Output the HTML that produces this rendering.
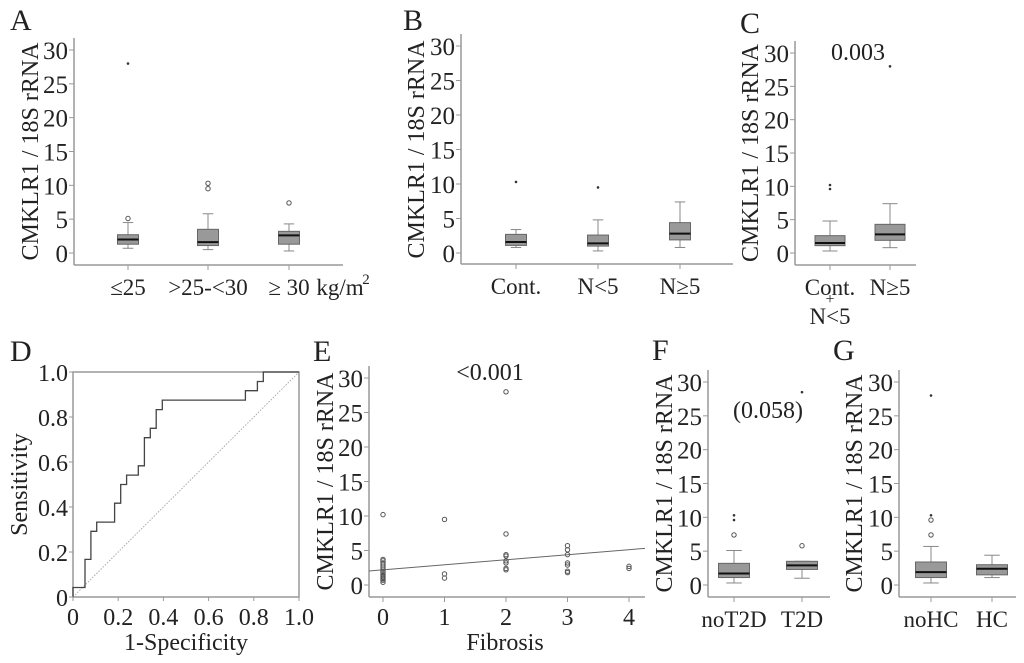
<!DOCTYPE html>
<html><head><meta charset="utf-8"><style>
html,body{margin:0;padding:0;background:#fff;}
svg{display:block;font-family:"Liberation Serif",serif;}
</style></head><body>
<svg id="fig" width="1024" height="663" viewBox="0 0 1024 663"></svg>
<script>
// ---- data ----
const panelACats = ["≤25", ">25-<30", "≥ 30"];
const panelABoxes = [[0.7,1.3,2.0,2.7,4.5],[0.5,1.1,1.6,3.5,5.8],[0.3,1.3,2.6,3.2,4.3]];
const panelACircles = [[5.1],[9.5,10.3],[7.4]];
const panelAStars = [[28],[],[]];
const panelBCats = ["Cont.", "N<5", "N≥5"];
const panelBBoxes = [[0.8,1.1,1.6,2.7,3.4],[0.3,1.0,1.4,2.6,4.8],[0.8,1.9,2.8,4.4,7.4]];
const panelBCircles = [[],[],[]];
const panelBStars = [[10.3],[9.5],[]];
const panelCCats = ["Cont.", "N≥5"];
const panelCBoxes = [[0.3,1.1,1.5,2.6,4.8],[0.8,1.9,2.8,4.3,7.4]];
const panelCCircles = [[],[]];
const panelCStars = [[9.6,10.2],[28]];
const panelFCats = ["noT2D", "T2D"];
const panelFBoxes = [[0.3,1.1,1.7,3.2,5.1],[1.0,2.3,2.9,3.5,3.5]];
const panelFCircles = [[7.4],[5.8]];
const panelFStars = [[9.6,10.3],[28.5]];
const panelGCats = ["noHC", "HC"];
const panelGBoxes = [[0.3,1.1,1.9,3.4,5.7],[1.1,1.5,2.4,3.0,4.4]];
const panelGCircles = [[7.4,9.6],[]];
const panelGStars = [[10.3,28],[]];
const yTicks = [0,5,10,15,20,25,30];
const rocFpr = [0,0,0.053,0.053,0.079,0.079,0.105,0.105,0.184,0.184,0.211,0.211,0.237,0.237,0.289,0.289,0.316,0.316,0.342,0.342,0.368,0.368,0.395,0.395,0.763,0.763,0.816,0.816,0.842,0.842,1];
const rocTpr = [0,0.042,0.042,0.167,0.167,0.292,0.292,0.333,0.333,0.417,0.417,0.5,0.5,0.542,0.542,0.583,0.583,0.708,0.708,0.75,0.75,0.833,0.833,0.875,0.875,0.917,0.917,0.958,0.958,1,1];
const rocTicks = [0,0.2,0.4,0.6,0.8,1.0];
const rocTickLabels = ["0","0.2","0.4","0.6","0.8","1.0"];
const fibX = [0,0,0,0,0,0,0,0,0,0,0,0,0,0,0,1,1,1,2,2,2,2,2,2,2,2,3,3,3,3,3,3,3,4,4];
const fibY = [0.4,0.7,0.9,1.1,1.3,1.5,1.8,2.0,2.3,2.6,2.9,3.2,3.5,3.7,10.2,9.5,1.0,1.6,28,7.4,4.4,4.2,3.5,3.2,2.4,2.2,5.7,5.1,4.4,3.2,2.9,2.0,1.8,2.7,2.4];
const fibTicks = [0,1,2,3,4];
const regIntercept = 2.2, regSlope = 0.73;

const NS="http://www.w3.org/2000/svg";
const svg=document.getElementById('fig');
function el(tag,attrs,parent){const e=document.createElementNS(NS,tag);for(const k in attrs)e.setAttribute(k,attrs[k]);(parent||svg).appendChild(e);return e;}
function txt(x,y,s,size,anchor,parent,rot){const t=el('text',{x:x,y:y,'font-size':size,'text-anchor':anchor||'middle',fill:'#222'},parent);if(rot)t.setAttribute('transform',rot);t.textContent=s;return t;}

function boxPanel(o){
  const g=el('g',{});
  
  
  const ys=v=>o.y0+(o.y30-o.y0)*v/30;
  const xs=i=>o.cx[i];
  el('line',{x1:o.ax,y1:o.y30-12,x2:o.ax,y2:o.axY,stroke:'#999','stroke-width':1.5},g);
  el('line',{x1:o.ax,y1:o.axY,x2:o.xr,y2:o.axY,stroke:'#999','stroke-width':1.5},g);
  yTicks.forEach(t=>{
    el('line',{x1:o.ax-5,y1:ys(t),x2:o.ax,y2:ys(t),stroke:'#999'},g);
    const l=txt(o.ax-6,ys(t)+9,String(t),25,'end',g);
    
    
  });
  const yt=txt(0,0,'CMKLR1 / 18S rRNA',24,'middle',g,`translate(${o.titleX},${(o.y0+o.y30)/2}) rotate(-90)`);
  
  
  const pl=txt(o.letterX,o.letterY,o.letter,30,'start',g);
  
  
  o.boxes.forEach((b,i)=>{
    const x=xs(i),w=o.bw;
    el('line',{x1:x,y1:o.axY,x2:x,y2:o.axY+5,stroke:'#999'},g);
    el('line',{x1:x,y1:ys(b[0]),x2:x,y2:ys(b[4]),stroke:'#888'},g);
    el('line',{x1:x-w/4,y1:ys(b[0]),x2:x+w/4,y2:ys(b[0]),stroke:'#888'},g);
    el('line',{x1:x-w/4,y1:ys(b[4]),x2:x+w/4,y2:ys(b[4]),stroke:'#888'},g);
    const r=el('rect',{x:x-w/2,y:ys(b[3]),width:w,height:ys(b[1])-ys(b[3]),fill:'#999',stroke:'#666'},g);
    
    
    el('line',{x1:x-w/2,y1:ys(b[2]),x2:x+w/2,y2:ys(b[2]),stroke:'#111','stroke-width':2},g);
    o.circles[i].forEach(v=>el('circle',{cx:x,cy:ys(v),r:2.2,fill:'none',stroke:'#555'},g));
    o.stars[i].forEach(v=>el('circle',{cx:x,cy:ys(v),r:1.3,fill:'#333'},g));
    const cl=txt(x,o.axY+30,o.cats[i],23,'middle',g);
    
    
  });
  return g;
}
const gA=boxPanel({name:'panel-a',letter:'A',letterX:10,letterY:30,ax:74,axY:265,xr:343,y0:253,y30:50,cx:[128,208,289],bw:21,titleX:38,cats:panelACats,boxes:panelABoxes,circles:panelACircles,stars:panelAStars});
txt(340,295,'kg/m',23,'middle',gA);txt(366,284,'2',15,'middle',gA);
boxPanel({name:'panel-b',letter:'B',letterX:403,letterY:30,ax:461,axY:264,xr:733,y0:253,y30:46,cx:[516,598,680],bw:21,titleX:424,cats:panelBCats,boxes:panelBBoxes,circles:panelBCircles,stars:panelBStars});
const gC=boxPanel({name:'panel-c',letter:'C',letterX:740,letterY:33,ax:795,axY:265,xr:916,y0:253,y30:53,cx:[830,890],bw:30,titleX:758,cats:panelCCats,boxes:panelCBoxes,circles:panelCCircles,stars:panelCStars});
txt(830,304,'+',16,'middle',gC);txt(830,324,'N<5',23,'middle',gC);
txt(858,60,'0.003',24,'middle',gC);
const gF=boxPanel({name:'panel-f',letter:'F',letterX:652,letterY:360,ax:708,axY:597,xr:830,y0:585,y30:382,cx:[734,802],bw:31,titleX:672,cats:panelFCats,boxes:panelFBoxes,circles:panelFCircles,stars:panelFStars});
txt(768,418,'(0.058)',24,'middle',gF);
boxPanel({name:'panel-g',letter:'G',letterX:833,letterY:360,ax:899,axY:597,xr:1016,y0:585,y30:382,cx:[931,992],bw:31,titleX:862,cats:panelGCats,boxes:panelGBoxes,circles:panelGCircles,stars:panelGStars});

// ---- Panel D: ROC ----
(function(){
  const g=el('g',{});
  
  
  const x0=73,x1=299,y0=597,y1=372;
  const xs=v=>x0+(x1-x0)*v, ys=v=>y0+(y1-y0)*v;
  el('rect',{x:x0,y:y1,width:x1-x0,height:y0-y1,fill:'none',stroke:'#999','stroke-width':1.5},g);
  el('line',{x1:xs(0),y1:ys(0),x2:xs(1),y2:ys(1),stroke:'#aaa','stroke-dasharray':'1.5,1.5'},g);
  const d=rocFpr.map((f,i)=>(i?'L':'M')+xs(f).toFixed(1)+','+ys(rocTpr[i]).toFixed(1)).join('');
  const p=el('path',{d:d,fill:'none',stroke:'#444','stroke-width':1.3},g);
  
  
  rocTicks.forEach((t,i)=>{
    el('line',{x1:xs(t),y1:y0,x2:xs(t),y2:y0+4,stroke:'#999'},g);
    el('line',{x1:x0-4,y1:ys(t),x2:x0,y2:ys(t),stroke:'#999'},g);
    txt(xs(t),y0+28,rocTickLabels[i],24,'middle',g);
    txt(x0-5,ys(t)+9,rocTickLabels[i],24,'end',g);
  });
  txt(0,0,'Sensitivity',24,'middle',g,`translate(27,${(y0+y1)/2}) rotate(-90)`);
  txt((x0+x1)/2,650,'1-Specificity',24,'middle',g);
  txt(10,361,'D',30,'start',g);
})();

// ---- Panel E: scatter ----
(function(){
  const g=el('g',{});
  
  
  const ax=369,axY=597,xr=645,y0=585,y30=378,c0=383,c4=629;
  const xs=v=>c0+(c4-c0)*v/4, ys=v=>y0+(y30-y0)*v/30;
  el('line',{x1:ax,y1:y30-12,x2:ax,y2:axY,stroke:'#999','stroke-width':1.5},g);
  el('line',{x1:ax,y1:axY,x2:xr,y2:axY,stroke:'#999','stroke-width':1.5},g);
  yTicks.forEach(t=>{el('line',{x1:ax-5,y1:ys(t),x2:ax,y2:ys(t),stroke:'#999'},g);txt(ax-6,ys(t)+9,String(t),25,'end',g);});
  fibTicks.forEach(t=>{el('line',{x1:xs(t),y1:axY,x2:xs(t),y2:axY+5,stroke:'#999'},g);txt(xs(t),axY+28,String(t),24,'middle',g);});
  fibX.forEach((f,i)=>{
    const c=el('circle',{cx:xs(f),cy:ys(fibY[i]),r:2.2,fill:'none',stroke:'#555'},g);
    
    
  });
  const xl0=(ax-c0)/(c4-c0)*4, xl1=(xr-c0)/(c4-c0)*4;
  const rl=el('line',{x1:ax,y1:ys(regIntercept+regSlope*xl0),x2:xr,y2:ys(regIntercept+regSlope*xl1),stroke:'#666'},g);
  
  
  txt(0,0,'CMKLR1 / 18S rRNA',24,'middle',g,`translate(333,${(y0+y30)/2}) rotate(-90)`);
  txt(505,650,'Fibrosis',24,'middle',g);
  txt(490,380,'<0.001',24,'middle',g);
  txt(313,361,'E',30,'start',g);
})();
</script>
</body></html>
